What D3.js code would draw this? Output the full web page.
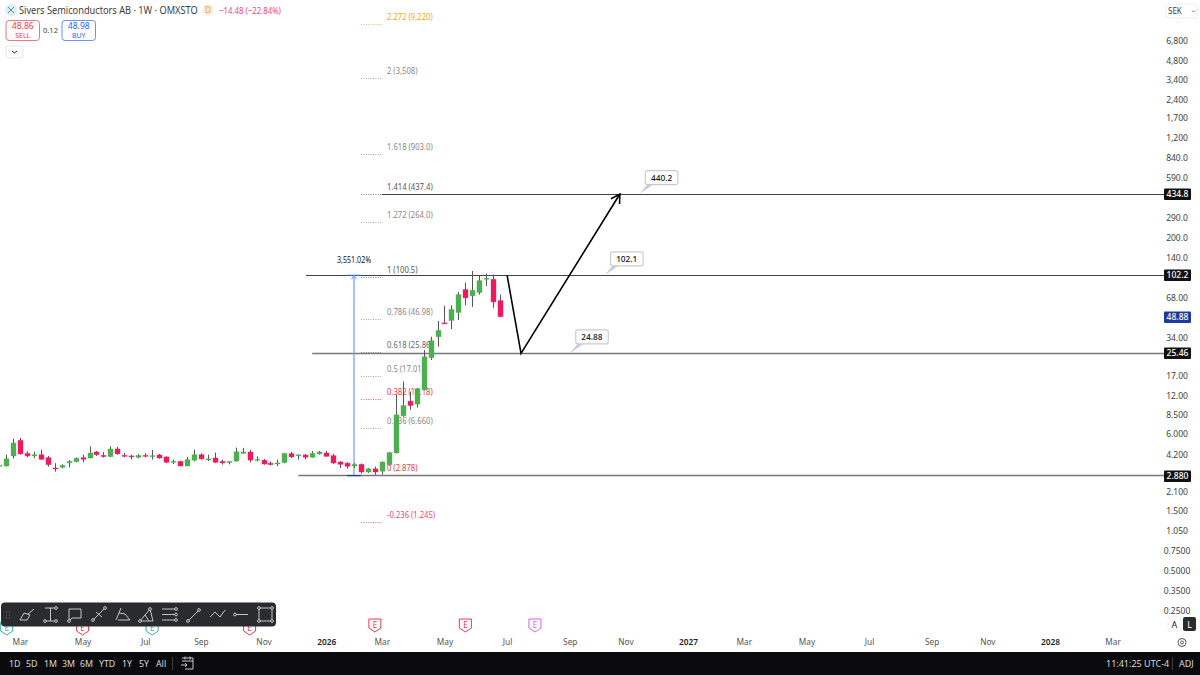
<!DOCTYPE html>
<html>
<head>
<meta charset="utf-8">
<script src="https://cdn.jsdelivr.net/npm/d3@7/dist/d3.min.js"></script>
<style>
html,body{margin:0;padding:0;background:#fff;overflow:hidden}
svg{display:block}
text{font-family:"Noto Sans",sans-serif}
</style>
</head>
<body>
<svg id="chart" width="1200" height="675"></svg>
<script>
// Weekly OHLC, oldest first; the first bar sits one week before week 0
const firstWeek = -1;
const opens  = [3.43,3.42,4.09,5.39,4.28,4.09,4.18,3.97,3.30,3.34,3.61,3.69,3.97,3.94,4.39,4.13,4.04,4.63,4.13,4.09,3.99,4.13,4.06,4.16,4.02,3.65,3.71,3.42,3.79,4.18,3.81,3.94,3.71,3.63,3.73,4.28,4.39,3.81,3.79,3.59,3.54,3.63,4.26,4.13,4.16,3.99,4.24,4.31,4.11,3.67,3.59,3.42,3.52,3.07,3.25,3.11,3.50,4.31,8.36,10.85,10.29,13.27,23.55,34.2,43.8,45.7,52.7,79.3,70.8,75.2,95.7,95.2,65.2];
const highs  = [3.47,4.18,5.56,5.63,4.44,4.41,4.57,4.09,3.59,3.52,3.81,3.99,4.18,4.85,4.47,4.39,4.85,4.80,4.31,4.18,4.21,4.28,4.55,4.24,4.06,3.83,3.76,4.02,4.57,4.28,4.18,4.34,3.83,3.71,4.74,4.72,4.57,4.06,3.88,3.71,3.83,4.31,4.39,4.18,4.24,4.47,4.47,4.47,4.24,3.73,3.65,3.59,3.57,3.30,3.38,3.71,4.39,12.14,15.38,12.87,13.67,27.0,34.2,45.2,59.3,60.0,76.0,89.8,110.3,100.9,105.3,103.5,72.5];
const lows   = [3.42,3.38,3.90,4.18,3.99,3.92,3.81,3.38,3.09,3.28,3.34,3.65,3.65,3.92,4.09,3.97,3.99,4.18,3.99,3.85,3.92,3.99,3.83,3.90,3.59,3.54,3.40,3.40,3.71,3.83,3.73,3.61,3.50,3.52,3.69,4.26,3.65,3.71,3.50,3.46,3.40,3.59,3.94,3.83,3.85,3.97,4.18,4.02,3.54,3.30,3.26,3.30,2.98,3.02,2.92,2.93,3.44,4.28,8.21,9.30,9.69,13.2,22.6,28.6,43.2,39.2,46.0,60.0,58.2,72.5,84.5,57.2,48.5];
const closes = [3.45,3.88,5.15,4.24,4.09,4.18,3.85,3.50,3.26,3.46,3.71,3.92,3.85,4.31,4.18,4.04,4.63,4.24,4.06,4.04,4.13,4.06,4.11,3.94,3.65,3.71,3.42,3.83,4.18,3.88,3.88,3.65,3.61,3.71,4.41,4.39,3.79,3.85,3.54,3.50,3.61,4.28,4.02,4.18,3.99,4.28,4.39,4.06,3.61,3.52,3.40,3.52,3.07,3.25,3.07,3.67,4.34,8.51,10.04,10.04,13.58,23.97,31.85,38.3,43.35,55.6,72.5,68.3,78.3,93.0,96.9,63.6,48.88];

// Right-hand price ticks: the scale places them at unrounded prices and prints them rounded
const priceTicks = [6770,4740,3380,2372,1695,1186,831,582,286,200.8,140.7,69.1,34,17.3,12.14,8.66,6.07,4.22,2.167,1.546,1.084,0.76,0.533,0.3735,0.262];
const priceTickLabels = ["6,800","4,800","3,400","2,400","1,700","1,200","840.0","590.0","290.0","200.0","140.0","68.00","34.00","17.00","12.00","8.500","6.000","4.200","2.100","1.500","1.050","0.7500","0.5000","0.3500","0.2500"];

// Month labels along the time scale, as week numbers
const timeTickWeeks = [2,11,20,28,37,46,54,63,72,81,89,98,106,115,124,133,141,150,159];
const timeTickLabels = ["Mar","May","Jul","Sep","Nov","2026","Mar","May","Jul","Sep","Nov","2027","Mar","May","Jul","Sep","Nov","2028","Mar"];

// Fibonacci extension levels
const fibRatios = [2.272,2,1.618,1.414,1.272,1,0.786,0.618,0.5,0.382,0.236,0,-0.236];
const fibLabels = ["9,220","3,508","903.0","437.4","264.0","100.5","46.98","25.86","17.01","11.18","6.660","2.878","1.245"];
const fibColors = ["#f5a623","#888","#888","#555","#888","#555","#888","#666","#888","#f23645","#888","#f23645","#f0457c"];

// Horizontal levels: price and first week
const levelPrices = [434.8,102.2,25.46,2.88];
const levelStartWeeks = [54,43.1,44,42];
const levelLabels = ["434.8","102.2","25.46","2.880"];

// Projected path: week, price
const pathWeeks = [72,74,88.2];
const pathPrices = [102.2,25.46,434.8];

// Price notes
const noteWeeks = [91,86,81];
const notePrices = [434.8,102.2,25.46];
const noteTexts = ["440.2","102.1","24.88"];

const lastPrice = 48.88;
const measureWeek = 50;
const measureTop = 102.2, measureBottom = 2.88;

// Earnings and dividend flags
const flagWeeks = [0.1,11,21,35,53,66,76];
const flagColors = ["#2fb5a0","#f23645","#2fb5a0","#f23645","#f23645","#f23645","#d65fe0"];
const rangeButtons = ["1D","5D","1M","3M","6M","YTD","1Y","5Y","All"];
const rangeButtonX = [9,26,44,62,80,99,122,139,156];

const svg = d3.select("#chart");
const x = d3.scaleLinear().domain([0,100]).range([6,702]);
const y = d3.scaleLog().domain([102.2,2.88]).range([275.3,475.6]);
// The Fibonacci tool spaces its levels by ratio between its two anchors
const yFib = d3.scaleLinear().domain([0,2.272]).range([475.1,23.9]);

const up = "#4caf50", down = "#f0195f";
const ink = "#131722", axisInk = "#3c4043";

// Narrows a label horizontally while keeping its glyph height
const condense = (sel,k)=>{
  const w = sel.node().getComputedTextLength();
  sel.attr("textLength",w*k).attr("lengthAdjust","spacingAndGlyphs");
};
// Squeezes a left-anchored label to an exact width
const fitWidth = (sel,px,py,width)=>{
  const w = sel.node().getComputedTextLength();
  sel.attr("x",0).attr("y",0).attr("transform",`translate(${px},${py}) scale(${width/w},1)`);
};

// Fibonacci dotted stubs and labels sit underneath the candles
const fib = svg.append("g");
fibRatios.forEach((r,i)=>{
  const ly = Math.round(yFib(r))+.5;
  fib.append("line").attr("x1",361).attr("x2",382).attr("y1",ly).attr("y2",ly)
    .attr("stroke",fibColors[i]).attr("stroke-opacity",0.75).attr("stroke-dasharray","1 1.4");
  const label = fib.append("text").attr("x",387).attr("y",ly-5).attr("font-size",8.6)
    .attr("fill",fibColors[i]).text(`${r} (${fibLabels[i]})`);
  condense(label,0.89);
});

// Horizontal levels
const levelWidths = [1,1,1.6,1.6];
const levelStrokes = ["#444","#444","#777","#777"];
levelPrices.forEach((p,i)=>{
  const ly = Math.floor(y(p))+.5;
  svg.append("line").attr("x1",x(levelStartWeeks[i])).attr("x2",1164)
    .attr("y1",ly).attr("y2",ly)
    .attr("stroke",levelStrokes[i]).attr("stroke-width",levelWidths[i]);
});

// Measure tool
const mx = x(measureWeek);
svg.append("line").attr("x1",mx).attr("x2",mx).attr("y1",y(measureTop)).attr("y2",y(measureBottom))
  .attr("stroke","#6c9cf8").attr("stroke-width",1.2);
svg.append("line").attr("x1",mx-7).attr("x2",mx+7).attr("y1",y(measureTop)).attr("y2",y(measureTop))
  .attr("stroke","#2962ff").attr("stroke-width",1);
svg.append("path").attr("d",`M${mx-2.5},${y(measureTop)+4}L${mx},${y(measureTop)}L${mx+2.5},${y(measureTop)+4}`)
  .attr("fill","none").attr("stroke","#6c9cf8");
svg.append("line").attr("x1",mx-7).attr("x2",mx+7).attr("y1",y(measureBottom)).attr("y2",y(measureBottom))
  .attr("stroke","#1a3fa8").attr("stroke-width",1.2);
const measureLabel = svg.append("text").attr("x",337).attr("y",263).attr("font-size",8.4)
  .attr("fill",ink).text("3,551.02%");
condense(measureLabel,0.85);

// Candles
const candles = svg.append("g");
closes.forEach((c,i)=>{
  const o = opens[i], col = c>=o ? up : down, cx = Math.round(x(i+firstWeek));
  candles.append("line").attr("x1",cx+.5).attr("x2",cx+.5).attr("y1",y(highs[i])).attr("y2",y(lows[i]))
    .attr("stroke","#555").attr("stroke-width",1);
  const top = y(Math.max(o,c)), h = Math.max(1,Math.abs(y(o)-y(c)));
  candles.append("rect").attr("x",cx-2).attr("width",5).attr("y",top).attr("height",h)
    .attr("fill",col).attr("stroke",col).attr("stroke-opacity",.35).attr("stroke-width",1);
});

// Projected path with an open arrow head
const line = d3.line().x((d,i)=>x(pathWeeks[i])).y(d=>y(d));
svg.append("path").attr("d",line(pathPrices)).attr("fill","none").attr("stroke","#000").attr("stroke-width",1.6);
{
  const n = pathWeeks.length-1;
  const tx = x(pathWeeks[n]), ty = y(pathPrices[n]);
  const a = Math.atan2(ty-y(pathPrices[n-1]),tx-x(pathWeeks[n-1]));
  const head = [a+2.62,a-2.62].map(t=>[tx+10*Math.cos(t),ty+10*Math.sin(t)]);
  svg.append("path").attr("d",`M${head[0]}L${tx},${ty}L${head[1]}`).attr("fill","none")
    .attr("stroke","#000").attr("stroke-width",1.6);
}

// Price notes
noteTexts.forEach((t,i)=>{
  const ax = x(noteWeeks[i]), ay = y(notePrices[i]);
  const bx = ax+6, by = ay-23.5;
  svg.append("path")
    .attr("d",`M${ax},${ay}L${bx+2},${by+14}L${bx+8},${by+14}Z`).attr("fill","#c9cbd1");
  svg.append("rect").attr("x",bx).attr("y",by).attr("width",32.5).attr("height",14).attr("rx",2)
    .attr("fill","#fff").attr("stroke","#c9cbd1").attr("stroke-width",1.2);
  svg.append("text").attr("x",bx+16.2).attr("y",by+10).attr("text-anchor","middle")
    .attr("font-size",8.3).attr("font-weight",500).attr("fill",ink).text(t);
});

// Price scale
const yAxis = d3.axisRight(y).tickValues(priceTicks).tickSize(0)
  .tickFormat((d,i)=>priceTickLabels[i]);
const yg = svg.append("g").attr("transform","translate(1177,0.5)").call(yAxis);
yg.select(".domain").remove();
yg.selectAll("text").attr("x",0).attr("text-anchor","middle").attr("font-size",8.5)
  .attr("font-family","'Noto Sans',sans-serif").attr("fill",axisInk);

// Price tags on the scale
const tag = (p,label,fill)=>{
  const ty = Math.round(y(p));
  svg.append("rect").attr("x",1164).attr("y",ty-5.5).attr("width",27).attr("height",11.5).attr("rx",1).attr("fill",fill);
  svg.append("text").attr("x",1177.5).attr("y",ty+3.3).attr("text-anchor","middle").attr("font-size",8.5)
    .attr("font-weight",500).attr("fill","#fff").text(label);
};
levelPrices.forEach((p,i)=>tag(p,levelLabels[i],"#111"));
tag(lastPrice,"48.88","#1e3a9e");

svg.append("rect").attr("x",1166).attr("y",4).attr("width",31).attr("height",14).attr("rx",2)
  .attr("fill","#fff").attr("stroke","#eceef1");
svg.append("text").attr("x",1168).attr("y",14).attr("font-size",8).attr("fill",axisInk).text("SEK");
svg.append("path").attr("d","M1192,10.5l1.5,1.5l1.5,-1.5").attr("fill","none").attr("stroke","#555").attr("stroke-width",.8);
svg.append("circle").attr("cx",1178).attr("cy",22).attr("r",.6).attr("fill","#aaa");

// Earnings flags
flagWeeks.forEach((w,i)=>{
  const fx = x(w), fy = i<4 ? 622 : 619;
  svg.append("path").attr("d",`M${fx-6},${fy}h12v9l-6,4l-6,-4Z`)
    .attr("fill","#fff").attr("stroke",flagColors[i]).attr("stroke-width",1);
  svg.append("text").attr("x",fx).attr("y",fy+9).attr("text-anchor","middle").attr("font-size",8)
    .attr("fill",flagColors[i]).text("E");
});

// Drawing toolbar
const tb = svg.append("g");
tb.append("rect").attr("x",1).attr("y",602.5).attr("width",275).attr("height",24).attr("rx",4).attr("fill","#2a2b2f");
tb.append("path").attr("d","M6,612h1M9,612h1M6,615h1M9,615h1M6,618h1M9,618h1").attr("stroke","#777");
const iconPaths = [
  "M20,620l4,-7l6,2l-3,5zM28,614l6,-5",
  "M45,608h11M50.5,608v13M45,621h11",
  "M69,609h12v9h-9l-3,3z",
  "M93,620l12,-12M96,612l6,5",
  "M116,620l5,-12M118,620h12l-5,-6l-6,-1",
  "M140,621l10,-12l3,12zM145,615l4,6",
  "M162,609h15M162,614.5h15M162,620h15",
  "M188,621l11,-11",
  "M210,617l5,-5l5,5l5,-7",
  "M236,614.5h12",
  "M259,608h13v13h-13z"
];
// Small anchor handles on the tool glyphs
const handles = [[56,608],[45,621],[56,621],[69,621],[93,620],[105,608],[150,609],[140,621],[176,609],[176,614.5],[176,620],[188,621],[199,610],[235,614.5],[259,608],[272,608],[259,621],[272,621]];
const iconG = tb.append("g").attr("fill","none").attr("stroke","#d6d7da").attr("stroke-width",.9);
iconPaths.forEach(d=>iconG.append("path").attr("d",d));
handles.forEach(h=>iconG.append("circle").attr("cx",h[0]).attr("cy",h[1]).attr("r",1.4).attr("fill","#2a2b2f"));

// Time scale labels
const timeAxis = d3.axisBottom(x).tickValues(timeTickWeeks).tickSize(0)
  .tickFormat((d,i)=>timeTickLabels[i]);
const tg = svg.append("g").attr("transform","translate(0,636)").call(timeAxis);
tg.select(".domain").remove();
tg.selectAll("text").attr("y",3).attr("dy","0.7em").attr("font-size",8.3)
  .attr("font-family","'Noto Sans',sans-serif")
  .attr("fill",(d,i)=>/^\d/.test(timeTickLabels[i])?"#222":"#555")
  .attr("font-weight",(d,i)=>/^\d/.test(timeTickLabels[i])?600:400);

// Log / auto buttons and settings
svg.append("rect").attr("x",1168).attr("y",617).attr("width",13).attr("height",14).attr("rx",2).attr("fill","#fff").attr("stroke","#eceef1");
svg.append("text").attr("x",1174.5).attr("y",627.5).attr("text-anchor","middle").attr("font-size",9).attr("fill","#222").text("A");
svg.append("rect").attr("x",1183).attr("y",617).attr("width",13).attr("height",14).attr("rx",2).attr("fill","#2a2b2f");
svg.append("text").attr("x",1189.5).attr("y",627.5).attr("text-anchor","middle").attr("font-size",9).attr("fill","#fff").text("L");
svg.append("circle").attr("cx",1182).attr("cy",642.5).attr("r",4).attr("fill","none").attr("stroke","#555");
svg.append("circle").attr("cx",1182).attr("cy",642.5).attr("r",1.5).attr("fill","none").attr("stroke","#555");

// Bottom bar
svg.append("rect").attr("x",0).attr("y",652).attr("width",1200).attr("height",23).attr("fill","#0b0b0d");
rangeButtons.forEach((b,i)=>{
  svg.append("text").attr("x",rangeButtonX[i]).attr("y",667).attr("font-size",8.8).attr("fill","#d8d9dc").text(b);
});
svg.append("line").attr("x1",172.5).attr("x2",172.5).attr("y1",657).attr("y2",670).attr("stroke","#3a3b3f");
svg.append("path").attr("d","M182,658h11v11h-8M182,661h11M185,656.5v3M190,656.5v3M181,665h6l-2,-2M187,665l-2,2")
  .attr("fill","none").attr("stroke","#d8d9dc").attr("stroke-width",.9);
svg.append("text").attr("x",1106).attr("y",667).attr("font-size",9).attr("fill","#d8d9dc").text("11:41:25 UTC-4");
svg.append("line").attr("x1",1172.5).attr("x2",1172.5).attr("y1",657).attr("y2",670).attr("stroke","#3a3b3f");
svg.append("text").attr("x",1179).attr("y",667).attr("font-size",9).attr("fill","#d8d9dc").text("ADJ");

// Header
svg.append("circle").attr("cx",11).attr("cy",10).attr("r",6).attr("fill","#e3eaf0");
svg.append("path").attr("d","M8,7l6,6M14,7l-6,6").attr("stroke","#35a0c0").attr("stroke-width",1);
const title = svg.append("text").attr("font-size",11.5).attr("fill","#3a3d44")
  .text("Sivers Semiconductors AB · 1W · OMXSTO");
fitWidth(title,19,14,179);
svg.append("circle").attr("cx",208).attr("cy",10).attr("r",5.5).attr("fill","#fdebd3");
svg.append("text").attr("x",208).attr("y",13).attr("text-anchor","middle").attr("font-size",8).attr("fill","#e8a94f").text("D");
const change = svg.append("text").attr("font-size",9.2).attr("fill","#f0457c").text("−14.48 (−22.84%)");
fitWidth(change,219,13.5,62);

const quote = (bxl,w,val,lab,col)=>{
  svg.append("rect").attr("x",bxl).attr("y",20.5).attr("width",w).attr("height",20).attr("rx",3)
    .attr("fill","#fff").attr("stroke",col).attr("stroke-opacity",.7);
  svg.append("text").attr("x",bxl+w/2).attr("y",29).attr("text-anchor","middle").attr("font-size",8.6).attr("fill",col).text(val);
  svg.append("text").attr("x",bxl+w/2).attr("y",38).attr("text-anchor","middle").attr("font-size",7).attr("fill",col).text(lab);
};
quote(6,33.5,"48.86","SELL","#f23645");
quote(62,33.5,"48.98","BUY","#2962ff");
svg.append("text").attr("x",50.5).attr("y",33).attr("text-anchor","middle").attr("font-size",7.5).attr("fill","#444").text("0.12");
svg.append("rect").attr("x",6).attr("y",46).attr("width",17).attr("height",12).attr("rx",2).attr("fill","#fff").attr("stroke","#e6e7ea");
svg.append("path").attr("d","M12,51l2.5,2l2.5,-2").attr("fill","none").attr("stroke","#222").attr("stroke-width",1);
</script>
</body>
</html>
